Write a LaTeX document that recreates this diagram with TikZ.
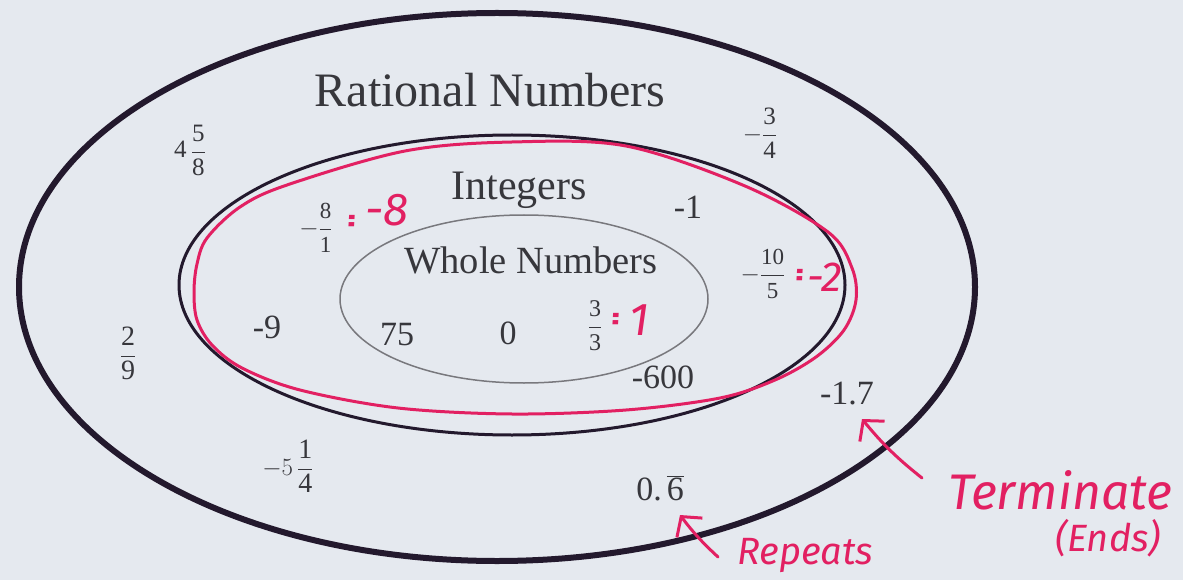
\documentclass[tikz,border=0pt]{standalone}
\usepackage{fontspec}
\setmainfont{Liberation Serif}
\newfontfamily\hand{Fira Sans}
\usetikzlibrary{arrows.meta}
\definecolor{bg}{RGB}{229,233,239}
\definecolor{ink}{RGB}{35,25,45}
\definecolor{pen}{RGB}{226,32,98}
\definecolor{txt}{RGB}{55,55,60}
\definecolor{thin}{RGB}{120,120,125}
\newcommand\fr[2]{\frac{\mbox{#1}}{\mbox{#2}}}
\newcommand\eqmark{\scalebox{0.45}[1.15]{\bfseries =}}
\tikzset{
  setline/.style={draw=ink},
  lbl/.style={text=txt, inner sep=0pt, font=\fontsize{#1}{#1}\selectfont},
  num/.style={text=txt, inner sep=0pt, font=\fontsize{34}{34}\selectfont},
  frac/.style={text=txt, inner sep=0pt, font=\fontsize{#1}{#1}\selectfont},
  penlbl/.style={text=pen, inner sep=0pt, font=\hand\itshape\fontsize{#1}{#1}\selectfont},
  penarrow/.style={draw=pen, line width=3pt, line cap=round, -{Straight Barb[length=14pt,width=32pt,line width=3pt]}}
}
\begin{document}
\begin{tikzpicture}[x=1pt,y=-1pt]
\fill[bg] (0,0) rectangle (1183,580);
\useasboundingbox (0,0) rectangle (1183,580);
% sets
\draw[setline, line width=6pt] (497,287) ellipse [x radius=478, y radius=274];
\draw[setline, line width=3pt] (512,285) ellipse [x radius=333, y radius=150];
\draw[draw=thin, line width=1.5pt] (524,299) ellipse [x radius=184, y radius=84];
\draw[draw=pen, line width=3pt, line join=round] plot[smooth cycle, tension=0.55] coordinates {
  (194,292) (197,264) (207,238) (240,207) (287,185) (405,151) (512,142) (626,146) (745,186)
  (828,232) (852,268) (856,300) (844,330) (816,357) (775,380) (720,398) (626,410) (512,414) (398,408)
  (300,390) (242,368) (212,345) (197,320)};
% labels
\node[lbl=48] (rat) at (490,90) {Rational Numbers};
\node[lbl=42] (int) at (519,190) {Integers};
\node[lbl=38.5] (whole) at (531,260) {Whole Numbers};
% numbers
\node[frac=25] (n458) at (190,150) {4\,$\displaystyle\fr{5}{8}$};
\node[frac=25] (n34) at (760,133) {$\displaystyle-\fr{3}{4}$};
\node[frac=23] (n81) at (316,228) {$\displaystyle-\fr{8}{1}$};
\node[num] (m1) at (688,207) {-1};
\node[frac=23] (n105) at (763,274) {$\displaystyle-\fr{10}{5}$};
\node[num] (m9) at (267,327) {-9};
\node[num] (n75) at (397,335) {75};
\node[num] (n0) at (508,333) {0};
\node[frac=24] (n33) at (595,326) {$\displaystyle\fr{3}{3}$};
\node[num] (m600) at (663,377) {-600};
\node[frac=28] (n29) at (128,353) {$\displaystyle\fr{2}{9}$};
\node[frac=28] (n514) at (288,466) {$\displaystyle-5\,\fr{1}{4}$};
\node[num] (m17) at (847,394) {-1.7};
\node[num] (rep) at (660,488) {0.\hspace{5pt}$\overline{\mbox{6}}$};
% handwritten notes
\node[penlbl=30] (q8) at (352,224) {\eqmark};
\node[penlbl=46] (e8) at (387,210) {-8};
\node[penlbl=30] (q2) at (800,278) {\eqmark};
\node[penlbl=42] (e2) at (825,277) {-2};
\node[penlbl=30] (q1) at (616,322) {\eqmark};
\node[penlbl=46] (e1) at (639,320) {1};
\node[penlbl=50, anchor=west] (term) at (948,490) {Terminate};
\node[penlbl=38] (ends) at (1108,538) {(Ends)};
\node[penlbl=38, anchor=west] (repeats) at (737,556) {Repeats};
\coordinate (t1) at (862,419);
\coordinate (s1) at (922,478);
\coordinate (t2) at (680,515);
\coordinate (s2) at (718,557);
\draw[penarrow] (s1) to[bend left=6] (t1);
\draw[penarrow] (s2) to[bend left=5] (t2);
\end{tikzpicture}
\end{document}
